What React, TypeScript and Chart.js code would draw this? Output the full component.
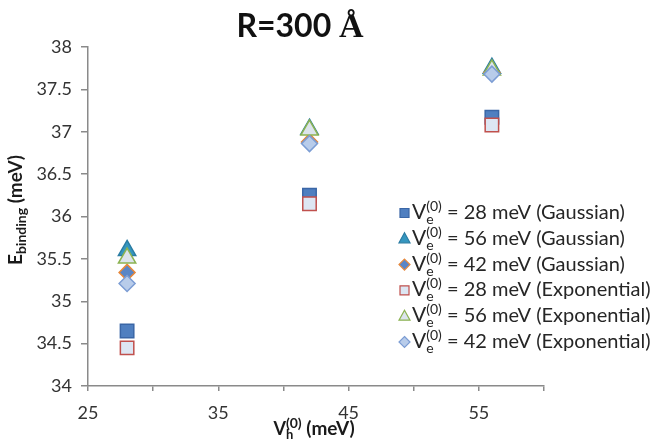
import { useEffect, useRef } from 'react';
import { Chart, registerables } from 'chart.js';

Chart.register(...registerables);

// Hole confinement potential V_h^(0) (meV)
const xValues = [28, 42, 56];

// Binding energies (meV) for R = 300 Å
const gauss28 = [34.65, 36.25, 37.17];
const gauss56 = [35.6, 37.03, 37.75];
const gauss42 = [35.34, 36.88, 37.7];
const expo28 = [34.45, 36.15, 37.08];
const expo56 = [35.51, 37.02, 37.73];
const expo42 = [35.21, 36.86, 37.68];

const seriesValues = [gauss28, gauss56, gauss42, expo28, expo56, expo42];
const electronPotentials = [28, 56, 42, 28, 56, 42];
const profiles = ['Gaussian', 'Gaussian', 'Gaussian', 'Exponential', 'Exponential', 'Exponential'];

const xLabelled = [25, 35, 45, 55];

const FONT = 'Lato, "Noto Sans", sans-serif';

type Shape = 'rect' | 'triangle' | 'rectRot';
const markerStyles: { shape: Shape; fill: string; border: string; r: number }[] = [
  { shape: 'rect', fill: '#4F7FC0', border: '#3A66A6', r: 9.5 },
  { shape: 'triangle', fill: '#3596BF', border: '#2A7CA3', r: 10 },
  { shape: 'rectRot', fill: '#5A86C6', border: '#E8883A', r: 8 },
  { shape: 'rect', fill: '#DDE6F3', border: '#C0504D', r: 9.5 },
  { shape: 'triangle', fill: '#DCE4EC', border: '#8CB352', r: 10 },
  { shape: 'rectRot', fill: '#B8CCEA', border: '#7C9DD4', r: 8 },
];

type Part = { text: string; font: string; dy?: number; stackNext?: boolean };

function drawParts(ctx: CanvasRenderingContext2D, parts: Part[], x: number, y: number) {
  let cx = x;
  let stackWidth = 0;
  for (const p of parts) {
    ctx.font = p.font;
    const w = ctx.measureText(p.text).width;
    ctx.fillText(p.text, cx, y + (p.dy || 0));
    if (p.stackNext) {
      stackWidth = w;
    } else {
      cx += Math.max(w, stackWidth);
      stackWidth = 0;
    }
  }
  return cx - x;
}

function measureParts(ctx: CanvasRenderingContext2D, parts: Part[]) {
  let total = 0;
  let stackWidth = 0;
  for (const p of parts) {
    ctx.font = p.font;
    const w = ctx.measureText(p.text).width;
    if (p.stackNext) stackWidth = w;
    else {
      total += Math.max(w, stackWidth);
      stackWidth = 0;
    }
  }
  return total;
}

function drawMarker(ctx: CanvasRenderingContext2D, shape: Shape, x: number, y: number, fill: string, border: string) {
  ctx.beginPath();
  if (shape === 'rect') {
    ctx.rect(x - 4.5, y - 4.5, 9, 9);
  } else if (shape === 'triangle') {
    ctx.moveTo(x, y - 6);
    ctx.lineTo(x + 5.5, y + 4);
    ctx.lineTo(x - 5.5, y + 4);
    ctx.closePath();
  } else {
    ctx.moveTo(x, y - 5.5);
    ctx.lineTo(x + 5.5, y);
    ctx.lineTo(x, y + 5.5);
    ctx.lineTo(x - 5.5, y);
    ctx.closePath();
  }
  ctx.fillStyle = fill;
  ctx.fill();
  ctx.lineWidth = 1.2;
  ctx.strokeStyle = border;
  ctx.stroke();
}

const decorations = {
  id: 'decorations',
  afterDraw(chart: Chart) {
    const ctx = chart.ctx;
    ctx.save();
    ctx.textBaseline = 'alphabetic';
    ctx.textAlign = 'left';

    // Title
    ctx.fillStyle = '#111';
    const titleParts: Part[] = [
      { text: 'R=300 ', font: `bold 32px ${FONT}` },
      { text: 'Å', font: 'bold 34px "Liberation Serif", serif' },
    ];
    const tw = measureParts(ctx, titleParts);
    drawParts(ctx, titleParts, 300 - tw / 2, 37);

    // X axis title
    const area = chart.chartArea;
    ctx.fillStyle = '#1a1a1a';
    const xParts: Part[] = [
      { text: 'V', font: `bold 18px ${FONT}` },
      { text: 'h', font: `bold 13px ${FONT}`, dy: 4, stackNext: true },
      { text: '(0)', font: `bold 14px ${FONT}`, dy: -7 },
      { text: ' (meV)', font: `bold 19px ${FONT}` },
    ];
    const xw = measureParts(ctx, xParts);
    drawParts(ctx, xParts, (area.left + area.right) / 2 - xw / 2 - 2, 435);

    // Y axis title
    const yParts: Part[] = [
      { text: 'E', font: `bold 19px ${FONT}` },
      { text: 'binding', font: `bold 14px ${FONT}`, dy: 4 },
      { text: ' (meV)', font: `bold 19px ${FONT}` },
    ];
    const yw = measureParts(ctx, yParts);
    ctx.save();
    ctx.translate(22, 210);
    ctx.rotate(-Math.PI / 2);
    drawParts(ctx, yParts, -yw / 2, 0);
    ctx.restore();

    // Legend
    const rowY0 = 213;
    const rowGap = 25.8;
    for (let i = 0; i < electronPotentials.length; i++) {
      const y = rowY0 + i * rowGap;
      const st = markerStyles[i];
      drawMarker(ctx, st.shape, 404.5, y, st.fill, st.border);
      ctx.fillStyle = '#262626';
      const parts: Part[] = [
        { text: 'V', font: `21px ${FONT}` },
        { text: 'e', font: `14px ${FONT}`, dy: 5, stackNext: true },
        { text: '(0)', font: `14px ${FONT}`, dy: -8 },
        { text: ` = ${electronPotentials[i]} meV (${profiles[i]})`, font: `20px ${FONT}` },
      ];
      drawParts(ctx, parts, 412, y + 6);
    }
    ctx.restore();
  },
};

export default function App() {
  const canvasRef = useRef<HTMLCanvasElement | null>(null);

  useEffect(() => {
    const canvas = canvasRef.current;
    if (!canvas) return;

    const datasets = seriesValues.map((vals, i) => ({
      label: `Ve(0) = ${electronPotentials[i]} meV (${profiles[i]})`,
      data: vals.map((v, j) => ({ x: xValues[j], y: v })),
      showLine: false,
      pointStyle: markerStyles[i].shape,
      pointRadius: markerStyles[i].r,
      pointBackgroundColor: markerStyles[i].fill,
      pointBorderColor: markerStyles[i].border,
      pointBorderWidth: 1.5,
      order: seriesValues.length - i,
    }));

    const axisColor = '#8a8a8a';
    const chart = new Chart(canvas, {
      type: 'scatter',
      data: { datasets },
      options: {
        animation: false,
        responsive: true,
        maintainAspectRatio: false,
        layout: { padding: { top: 47, right: 111, left: 0, bottom: 0 } },
        plugins: {
          legend: { display: false },
          title: { display: false },
          tooltip: { enabled: false },
        },
        scales: {
          x: {
            type: 'linear',
            min: 25,
            max: 60,
            afterFit: (scale: any) => {
              scale.height = 58;
            },
            ticks: {
              stepSize: 5,
              autoSkip: false,
              maxRotation: 0,
              padding: 11,
              color: '#333',
              font: { family: FONT, size: 18 },
              callback: (v: any) => (xLabelled.includes(Number(v)) ? String(v) : ''),
            },
            grid: {
              display: true,
              drawOnChartArea: false,
              drawTicks: true,
              tickLength: 5,
              color: axisColor,
              lineWidth: 1.5,
            },
            border: { display: true, color: axisColor, width: 1.5 },
          },
          y: {
            type: 'linear',
            min: 34,
            max: 38,
            afterFit: (scale: any) => {
              scale.width = 88;
            },
            ticks: {
              stepSize: 0.5,
              padding: 9,
              color: '#333',
              font: { family: FONT, size: 18 },
              callback: (v: any) => String(Number(v)),
            },
            grid: {
              display: true,
              drawOnChartArea: false,
              drawTicks: true,
              tickLength: 7,
              color: axisColor,
              lineWidth: 1.5,
            },
            border: { display: true, color: axisColor, width: 1.5 },
          },
        },
      },
      plugins: [decorations],
    } as any);

    return () => chart.destroy();
  }, []);

  return (
    <div style={{ position: 'absolute', left: 0, top: 0, width: 655, height: 444, background: '#fff' }}>
      <canvas ref={canvasRef} />
    </div>
  );
}
